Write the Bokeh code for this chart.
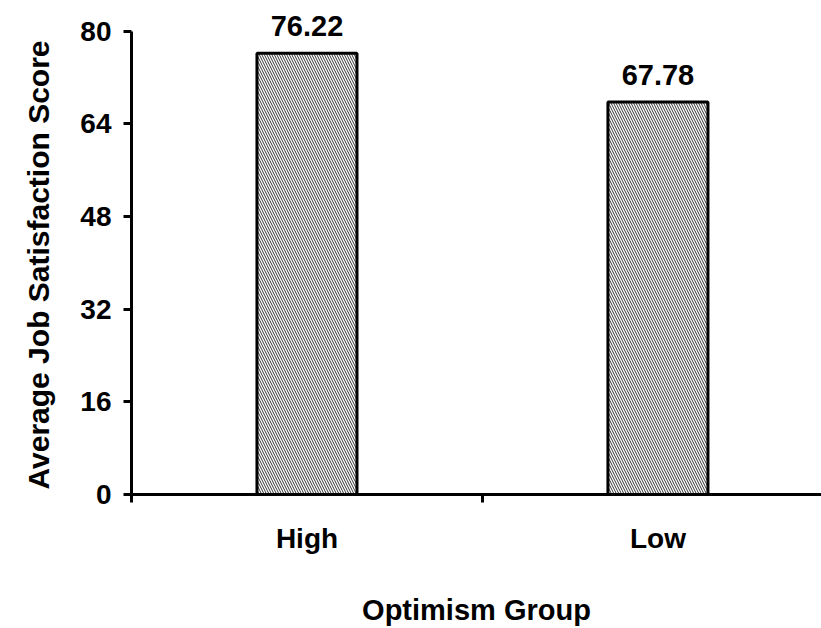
from bokeh.plotting import figure
from bokeh.models import Range1d, FixedTicker, ColumnDataSource, Title
from bokeh.embed import file_html
from bokeh.resources import INLINE
from bokeh.core.properties import value

# Data
groups = ["High", "Low"]
scores = [76.22, 67.78]
y_ticks = [0, 16, 32, 48, 64, 80]

FONT = "Liberation Sans"

# categories sit at the centre of unit-wide slots; slot boundaries get the tick marks
x_pos = [i + 0.5 for i in range(len(groups))]
boundaries = list(range(len(groups) + 1))

src = ColumnDataSource(dict(
    x=x_pos,
    score=scores,
    label=[f"{s:.2f}" for s in scores],
))

# the frame reaches the top edge so the value labels have room above the 80 line;
# the y axis line itself stops at 80
Y_TOP = 80 * 497 / 466

p = figure(
    width=821, height=628,
    output_backend="svg", toolbar_location=None,
    x_range=Range1d(0, 1.966), y_range=Range1d(0, Y_TOP),
    min_border_left=131, min_border_right=0,
    min_border_top=0, min_border_bottom=131,
    x_axis_label="Optimism Group",
)
p.outline_line_color = None
p.grid.visible = False
p.background_fill_color = "white"
p.border_fill_color = "white"

p.vbar(
    x="x", top="score", width=0.285, source=src,
    fill_color="white", line_color="black", line_width=3,
    hatch_pattern="left_diagonal_line", hatch_scale=5,
    hatch_weight=1.0, hatch_color="#333333",
)

# value labels above the bars
p.text(
    x="x", y="score", text="label", source=src,
    text_align="center", text_baseline="alphabetic", y_offset=-27,
    text_font=value(FONT), text_font_style="bold", text_font_size="29px",
    text_color="black",
)

# y axis
ya = p.yaxis[0]
ya.ticker = FixedTicker(ticks=y_ticks)
ya.bounds = (0, 80)
ya.axis_line_width = 3
ya.axis_line_color = "black"
ya.major_tick_line_width = 3
ya.major_tick_line_color = "black"
ya.major_tick_out = 8
ya.major_tick_in = 0
ya.minor_tick_line_color = None
ya.major_label_standoff = 12
ya.major_label_text_font = FONT
ya.major_label_text_font_style = "bold"
ya.major_label_text_font_size = "28px"
ya.major_label_text_color = "black"

# y axis title, starting just above the bottom of the axis line
y_title = Title(
    text="Average Job Satisfaction Score", align="left", offset=5,
    vertical_align="top",
    text_font=FONT, text_font_style="bold", text_font_size="30px",
    text_color="black", standoff=42,
)
p.add_layout(y_title, "left")

# x axis: labels at slot centres, tick marks on slot boundaries
xa = p.xaxis[0]
xa.ticker = FixedTicker(ticks=x_pos, minor_ticks=boundaries)
xa.major_label_overrides = {x: g for x, g in zip(x_pos, groups)}
xa.axis_line_width = 3
xa.axis_line_color = "black"
xa.major_tick_line_color = None
xa.minor_tick_line_color = "black"
xa.minor_tick_line_width = 3
xa.minor_tick_out = 8
xa.minor_tick_in = 0
xa.major_tick_out = 8
xa.major_label_standoff = 20
xa.major_label_text_font = FONT
xa.major_label_text_font_style = "bold"
xa.major_label_text_font_size = "28px"
xa.major_label_text_color = "black"
xa.axis_label_text_font = FONT
xa.axis_label_text_font_style = "bold"
xa.axis_label_text_font_size = "29px"
xa.axis_label_text_color = "black"
xa.axis_label_standoff = 37

open("out.html", "w").write(file_html(p, INLINE))
